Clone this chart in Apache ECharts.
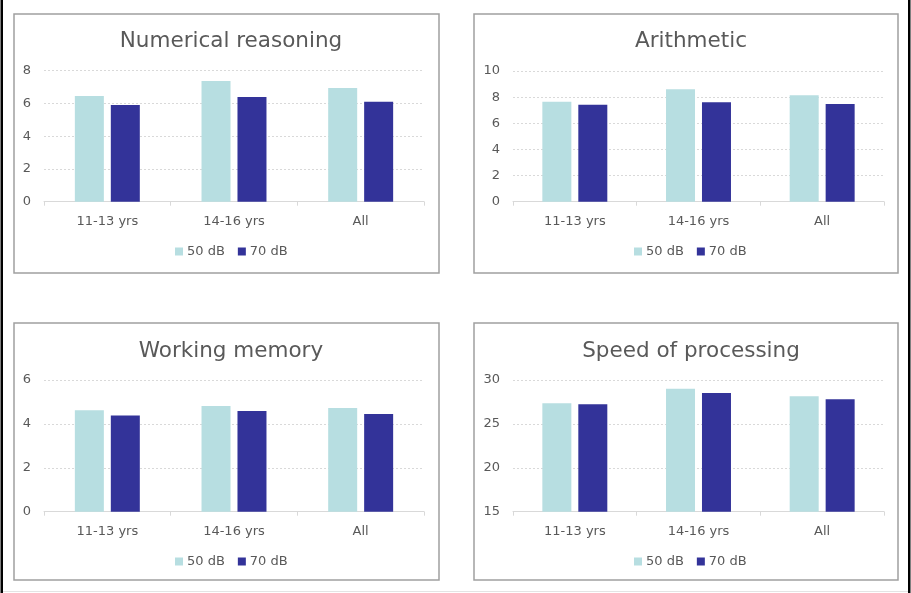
<!DOCTYPE html>
<html>
<head>
<meta charset="utf-8">
<script src="https://cdn.jsdelivr.net/npm/echarts@6/dist/echarts.min.js"></script>
<style>
html,body{margin:0;padding:0;background:#fff;}
#c{width:911px;height:593px;}
</style>
</head>
<body>
<div id="c"></div>
<script>
var categories = ['11-13 yrs', '14-16 yrs', 'All'];
var seriesNames = ['50 dB', '70 dB'];
var titles = ['Numerical reasoning', 'Arithmetic', 'Working memory', 'Speed of processing'];

var numerical50 = [6.45, 7.37, 6.94];
var numerical70 = [5.90, 6.39, 6.11];
var arithmetic50 = [7.65, 8.60, 8.14];
var arithmetic70 = [7.42, 7.60, 7.47];
var memory50 = [4.62, 4.82, 4.73];
var memory70 = [4.38, 4.59, 4.45];
var speed50 = [27.35, 29.00, 28.14];
var speed70 = [27.23, 28.52, 27.80];

var yMin = [0, 0, 0, 15];
var yMax = [8, 10, 6, 30];
var yInterval = [2, 2, 2, 5];

var panelData = [
  [numerical50, numerical70],
  [arithmetic50, arithmetic70],
  [memory50, memory70],
  [speed50, speed70]
];

var FONT = 'DejaVu Sans';
var TXT = '#595959';
var colors = ['#B7DEE1', '#333399'];

// layout
var panels = [
  {x: 14, y: 14, w: 425, h: 259},
  {x: 474, y: 14, w: 424, h: 259},
  {x: 14, y: 323, w: 425, h: 257},
  {x: 474, y: 323, w: 424, h: 257}
];
var grids = [
  {left: 44, top: 70.7, width: 380, height: 131},
  {left: 513, top: 71, width: 371, height: 130.7},
  {left: 44, top: 380, width: 380, height: 131.7},
  {left: 513, top: 380, width: 371, height: 131.7}
];
var titlePos = [
  {cx: 226, top: 25}, {cx: 686, top: 25}, {cx: 226, top: 335}, {cx: 686, top: 335}
];
var legendPos = [
  {left: 170, top: 240}, {left: 629, top: 240}, {left: 170, top: 550}, {left: 629, top: 550}
];

var option = {
  backgroundColor: '#ffffff',
  animation: false,
  color: colors,
  title: [], legend: [], grid: [], xAxis: [], yAxis: [], series: [],
  graphic: []
};

// outer frame lines
option.graphic.push({type: 'rect', shape: {x: 0.5, y: 0, width: 2.5, height: 593}, style: {fill: '#000'}, silent: true});
option.graphic.push({type: 'rect', shape: {x: 908, y: 0, width: 2.5, height: 593}, style: {fill: '#000'}, silent: true});
option.graphic.push({type: 'rect', shape: {x: 3, y: 591, width: 905, height: 1}, style: {fill: '#E4E4E4'}, silent: true});

for (var i = 0; i < 4; i++) {
  var p = panels[i];
  option.graphic.push({type: 'rect', shape: {x: p.x, y: p.y, width: p.w, height: p.h},
    style: {fill: 'none', stroke: '#A0A0A0', lineWidth: 1.5}, silent: true, z: -1});
  option.title.push({
    text: titles[i], left: titlePos[i].cx, top: titlePos[i].top, textAlign: 'center',
    textStyle: {fontFamily: FONT, fontSize: 21.5, fontWeight: 'normal', color: TXT}
  });
  option.legend.push({
    data: seriesNames, left: legendPos[i].left, top: legendPos[i].top,
    orient: 'horizontal', itemWidth: 8, itemHeight: 8, itemGap: 13, icon: 'rect',
    textStyle: {fontFamily: FONT, fontSize: 13, color: TXT, padding: [0, 0, 0, -1]},
    selectedMode: false
  });
  var g = grids[i];
  option.grid.push({left: g.left, top: g.top, width: g.width, height: g.height, containLabel: false});
  option.xAxis.push({
    type: 'category', gridIndex: i, data: categories,
    axisLine: {show: true, lineStyle: {color: '#D9D9D9', width: 1}},
    axisTick: {show: true, length: 4, lineStyle: {color: '#D9D9D9'}},
    axisLabel: {fontFamily: FONT, fontSize: 13, color: TXT, margin: 13}
  });
  option.yAxis.push({
    type: 'value', gridIndex: i, min: yMin[i], max: yMax[i], interval: yInterval[i],
    axisLine: {show: false}, axisTick: {show: false},
    axisLabel: {fontFamily: FONT, fontSize: 13, color: TXT, margin: 13},
    splitLine: {show: true, lineStyle: {color: '#D9D9D9', type: [2, 2], width: 1}}
  });
  for (var s = 0; s < 2; s++) {
    option.series.push({
      type: 'bar', name: seriesNames[s], xAxisIndex: i, yAxisIndex: i,
      data: panelData[i][s], barWidth: 29, barGap: '24%',
      itemStyle: {color: colors[s]}
    });
  }
}

var chart = echarts.init(document.getElementById('c'), null, {renderer: 'canvas'});
chart.setOption(option);
</script>
</body>
</html>
